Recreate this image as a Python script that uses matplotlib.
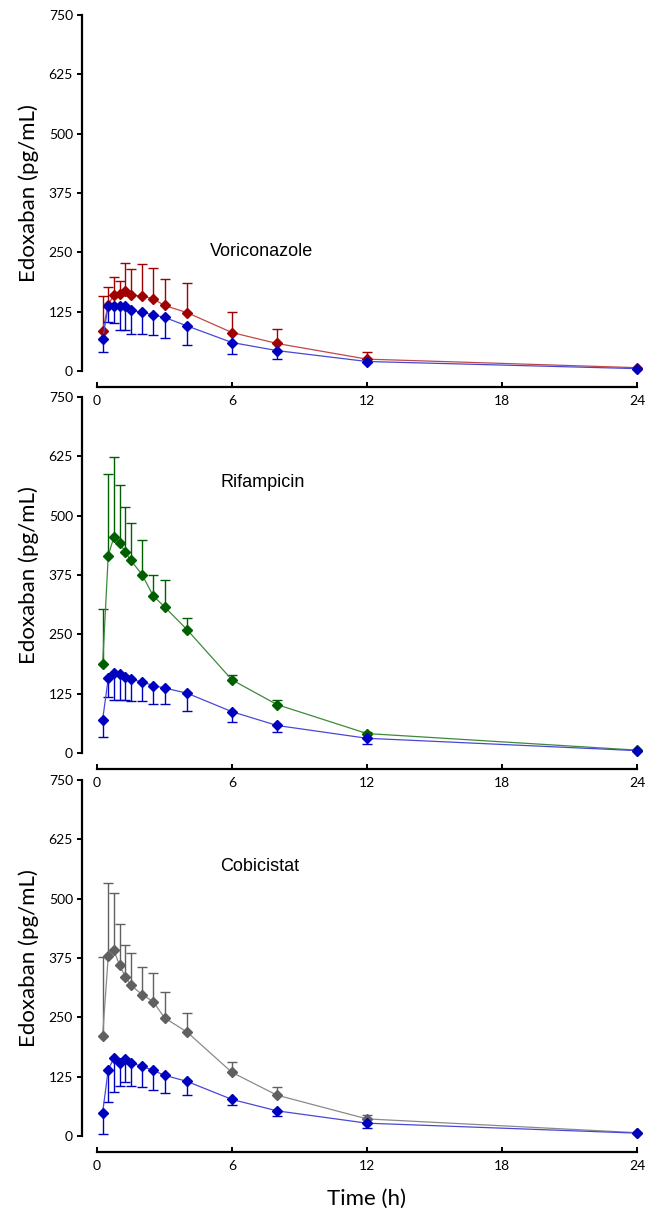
import numpy as np
import matplotlib
matplotlib.use("Agg")
import matplotlib.pyplot as plt

# ---------------- data ----------------
time_h = [0.25, 0.5, 0.75, 1.0, 1.25, 1.5, 2.0, 2.5, 3.0, 4.0, 6.0, 8.0, 12.0, 24.0]

# Panel 1: Voriconazole
vori_mean = [85, 140, 160, 162, 168, 160, 158, 152, 138, 123, 81, 58, 25, 7]
vori_sd   = [74, 38, 39, 28, 60, 54, 67, 66, 56, 62, 43, 30, 14, 0]
ctrl1_mean = [67, 137, 137, 137, 137, 128, 124, 118, 113, 95, 60, 43, 20, 5]
ctrl1_sd   = [28, 34, 36, 51, 51, 49, 47, 43, 44, 41, 25, 18, 0, 0]

# Panel 2: Rifampicin
rifa_mean = [187, 416, 455, 443, 424, 406, 376, 331, 308, 260, 154, 102, 41, 6]
rifa_sd   = [116, 172, 168, 121, 95, 78, 73, 43, 56, 25, 10, 9, 3, 0]
ctrl2_mean = [70, 157, 169, 166, 161, 155, 150, 142, 137, 126, 87, 58, 31, 5]
ctrl2_sd   = [36, 38, 57, 54, 49, 45, 40, 39, 34, 38, 22, 14, 13, 0]

# Panel 3: Cobicistat
cobi_mean = [211, 379, 391, 360, 336, 318, 298, 283, 249, 219, 134, 86, 36, 7]
cobi_sd   = [167, 153, 120, 87, 67, 68, 57, 60, 54, 41, 22, 17, 8, 0]
ctrl3_mean = [49, 140, 164, 154, 162, 154, 147, 138, 128, 115, 77, 53, 27, 6]
ctrl3_sd   = [45, 69, 72, 49, 49, 49, 44, 41, 38, 29, 12, 11, 10, 0]

panel_titles = ["Voriconazole", "Rifampicin", "Cobicistat"]
title_pos = [(5.0, 251), (5.5, 569), (5.47, 567)]
x_ticks = [0, 6, 12, 18, 24]
y_ticks = [0, 125, 250, 375, 500, 625, 750]

ylabel_text = "Edoxaban (pg/mL)"
xlabel_text = "Time (h)"

# ---------------- style ----------------
BLUE = "#0000C0"
panel_colors = ["#A00000", "#006000", "#606060"]
line_colors = ["#C04848", "#3C8A3C", "#8A8A8A"]
BLUE_LINE = "#4848D8"

plt.rcParams["font.family"] = ["Lato", "DejaVu Sans"]

W, H = 655, 1215
fig = plt.figure(figsize=(W / 100, H / 100), dpi=100)

bottoms_px = [371, 753, 1136]
left_px, right_px = 97, 637
height_px = 356

series = [
    (vori_mean, vori_sd, ctrl1_mean, ctrl1_sd),
    (rifa_mean, rifa_sd, ctrl2_mean, ctrl2_sd),
    (cobi_mean, cobi_sd, ctrl3_mean, ctrl3_sd),
]

t = np.array(time_h)


def draw_series(ax, mean, sd, color, lcolor, upper, z):
    mean = np.array(mean, dtype=float)
    sd = np.array(sd, dtype=float)
    zeros = np.zeros_like(sd)
    yerr = [zeros, sd] if upper else [sd, zeros]
    mask = sd > 0
    _, caplines, barcols = ax.errorbar(t[mask], mean[mask],
                                       yerr=[e[mask] for e in yerr],
                                       fmt="none", ecolor=color, elinewidth=1.0,
                                       capsize=3.8, capthick=1.0, zorder=z,
                                       clip_on=False)
    for cl in caplines:
        cl.set_clip_on(False)
        if np.allclose(cl.get_ydata(), mean[mask]):
            cl.set_visible(False)
    for bc in barcols:
        bc.set_clip_on(False)
    ax.plot(t, mean, color=lcolor, lw=0.9, zorder=z + 0.1, clip_on=False)
    ax.plot(t, mean, ls="none", marker="D", ms=5.2, color=color,
            markeredgecolor=color, zorder=z + 0.2, clip_on=False)


for i, (bpx, (m, s, cm, cs)) in enumerate(zip(bottoms_px, series)):
    ax = fig.add_axes([left_px / W, 1 - bpx / H, (right_px - left_px) / W, height_px / H])
    ax.patch.set_visible(False)
    draw_series(ax, m, s, panel_colors[i], line_colors[i], True, 2)
    draw_series(ax, cm, cs, BLUE, BLUE_LINE, False, 3)

    ax.set_xlim(0, 24)
    ax.set_ylim(0, 750)
    ax.set_xticks(x_ticks)
    ax.set_yticks(y_ticks)
    for sp in ["top", "right"]:
        ax.spines[sp].set_visible(False)
    ax.spines["left"].set_position(("outward", 10.8))
    ax.spines["bottom"].set_position(("outward", 11.5))
    ax.spines["left"].set_linewidth(1.6)
    ax.spines["bottom"].set_linewidth(1.6)
    ax.spines["left"].set_bounds(0, 750)
    ax.spines["bottom"].set_bounds(0, 24)
    ax.tick_params(axis="y", direction="out", length=3.5, width=1.4, labelsize=10, pad=3)
    ax.tick_params(axis="x", direction="in", length=3.5, width=1.4, labelsize=10, pad=6)
    ax.set_ylabel(ylabel_text, fontsize=16)
    ax.yaxis.set_label_coords(-0.108, 0.5)
    ax.text(title_pos[i][0], title_pos[i][1], panel_titles[i],
            fontsize=13, family="Liberation Sans", ha="left", va="center")

fig.text(367 / W, 1 - 1199 / H, xlabel_text, fontsize=16, ha="center", va="center")

fig.savefig("out.png", dpi=100)
